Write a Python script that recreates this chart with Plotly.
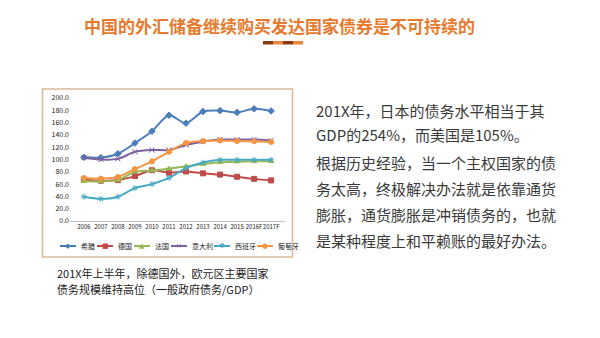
import plotly.graph_objects as go

years = ["2006", "2007", "2008", "2009", "2010", "2011", "2012", "2013", "2014", "2015", "2016F", "2017F"]
greece   = [103.5, 103.1, 109.4, 126.7, 146.0, 172.0, 159.0, 178.0, 179.5, 176.5, 182.5, 179.0]
germany  = [67.5, 65.5, 66.5, 73.0, 82.5, 78.5, 80.5, 77.5, 75.5, 72.0, 68.5, 66.0]
france   = [64.5, 64.5, 66.5, 80.0, 82.0, 85.0, 89.0, 92.5, 95.5, 96.5, 97.0, 97.0]
italy    = [103.0, 100.0, 101.0, 112.5, 115.5, 115.5, 123.5, 129.0, 132.5, 132.5, 132.5, 131.0]
spain    = [39.5, 36.0, 39.5, 53.5, 60.0, 70.0, 86.0, 95.0, 99.5, 99.5, 99.5, 99.5]
portugal = [70.0, 69.0, 71.5, 84.5, 97.0, 112.5, 127.0, 130.0, 131.0, 130.0, 129.5, 128.5]

names = ["希腊", "德国", "法国", "意大利", "西班牙", "葡萄牙"]
series = [greece, germany, france, italy, spain, portugal]
colors = ["#4A7EBB", "#BE4B48", "#98B954", "#7D60A0", "#46AAC5", "#F59443"]
symbols = ["diamond", "square", "triangle-up", "x-thin", "asterisk-open", "circle"]
legend_glyphs = ["◆", "■", "▲", "×", "✱", "●"]

title = "中国的外汇储备继续购买发达国家债券是不可持续的"
right_lines = [
    "201X年，日本的债务水平相当于其",
    "GDP的254%，而美国是105%。",
    "根据历史经验，当一个主权国家的债",
    "务太高，终极解决办法就是依靠通货",
    "膨胀，通货膨胀是冲销债务的，也就",
    "是某种程度上和平赖账的最好办法。",
]
caption_lines = ["201X年上半年，除德国外，欧元区主要国家",
                 "债务规模维持高位（一般政府债务/GDP）"]

W, H = 600, 338
L, R, T, B = 70, 315, 98, 117
PW, PH = W - L - R, H - T - B

def px(x):
    return (x - L) / PW

def py(y):
    return (H - B - y) / PH

CJK = "Noto Sans CJK SC"

fig = go.Figure()
for n, s, c, sym in zip(names, series, colors, symbols):
    mk = dict(symbol=sym, size=5, color=c, line=dict(color=c, width=1))
    fig.add_trace(go.Scatter(
        x=years, y=s, name=n, mode="lines+markers",
        line=dict(color=c, width=2, shape="spline", smoothing=0.8),
        marker=mk, showlegend=False))

shapes = []
annotations = []

# border box around chart
shapes.append(dict(type="rect", xref="paper", yref="paper",
                   x0=px(42.5), x1=px(292.5), y0=py(89), y1=py(257),
                   line=dict(color="#D8B996", width=1.5), fillcolor="rgba(0,0,0,0)", layer="below"))

# title underline decoration
deco_cols = ["#8A3B12", "#E8883C", "#8A3B12", "#E8883C"]
for i, dc in enumerate(deco_cols):
    shapes.append(dict(type="rect", xref="paper", yref="paper",
                       x0=px(263 + i * 10), x1=px(273 + i * 10), y0=py(41), y1=py(44.5),
                       line=dict(width=0), fillcolor=dc))

# manual legend
lx = 60
ly = 246
for n, c, g in zip(names, colors, legend_glyphs):
    shapes.append(dict(type="line", xref="paper", yref="paper",
                       x0=px(lx), x1=px(lx + 16), y0=py(ly), y1=py(ly),
                       line=dict(color=c, width=2)))
    annotations.append(dict(text=g, x=px(lx + 8), y=py(ly), xref="paper", yref="paper",
                            showarrow=False, xanchor="center", yanchor="middle",
                            font=dict(size=7, color=c, family="DejaVu Sans")))
    annotations.append(dict(text=n, x=px(lx + 19), y=py(ly), xref="paper", yref="paper",
                            showarrow=False, xanchor="left", yanchor="middle",
                            font=dict(size=7, color="#222222", family=CJK)))
    lx += 16 + 3 + 6 * len(n) + 6

# title
annotations.append(dict(text="<b>" + title + "</b>", x=px(279), y=py(25), xref="paper", yref="paper",
                        showarrow=False, xanchor="center", yanchor="middle",
                        font=dict(size=17, color="#E67A2E", family=CJK)))

# right text
ys = [110, 134, 162, 188, 214, 240]
for t, yy in zip(right_lines, ys):
    annotations.append(dict(text=t, x=px(314), y=py(yy), xref="paper", yref="paper",
                            showarrow=False, xanchor="left", yanchor="middle",
                            font=dict(size=15, color="#3A3A3A", family=CJK)))

# caption
for t, yy in zip(caption_lines, [273, 289]):
    annotations.append(dict(text=t, x=px(55), y=py(yy), xref="paper", yref="paper",
                            showarrow=False, xanchor="left", yanchor="middle", align="left",
                            font=dict(size=11, color="#1A1A1A", family=CJK)))

fig.update_layout(
    width=W, height=H,
    margin=dict(l=L, r=R, t=T, b=B),
    paper_bgcolor="white", plot_bgcolor="white",
    shapes=shapes, annotations=annotations,
    showlegend=False,
    xaxis=dict(type="category", showgrid=False, showline=True, linecolor="#BFBFBF", linewidth=1,
               ticks="", tickangle=0, tickfont=dict(size=6, color="#222222", family=CJK),
               fixedrange=True, zeroline=False),
    yaxis=dict(range=[0, 200], dtick=20, tickformat=".1f", showgrid=False, showline=False,
               zeroline=False, ticks="", tickfont=dict(size=7, color="#222222", family=CJK),
               fixedrange=True),
)

fig.write_html("out.html")
